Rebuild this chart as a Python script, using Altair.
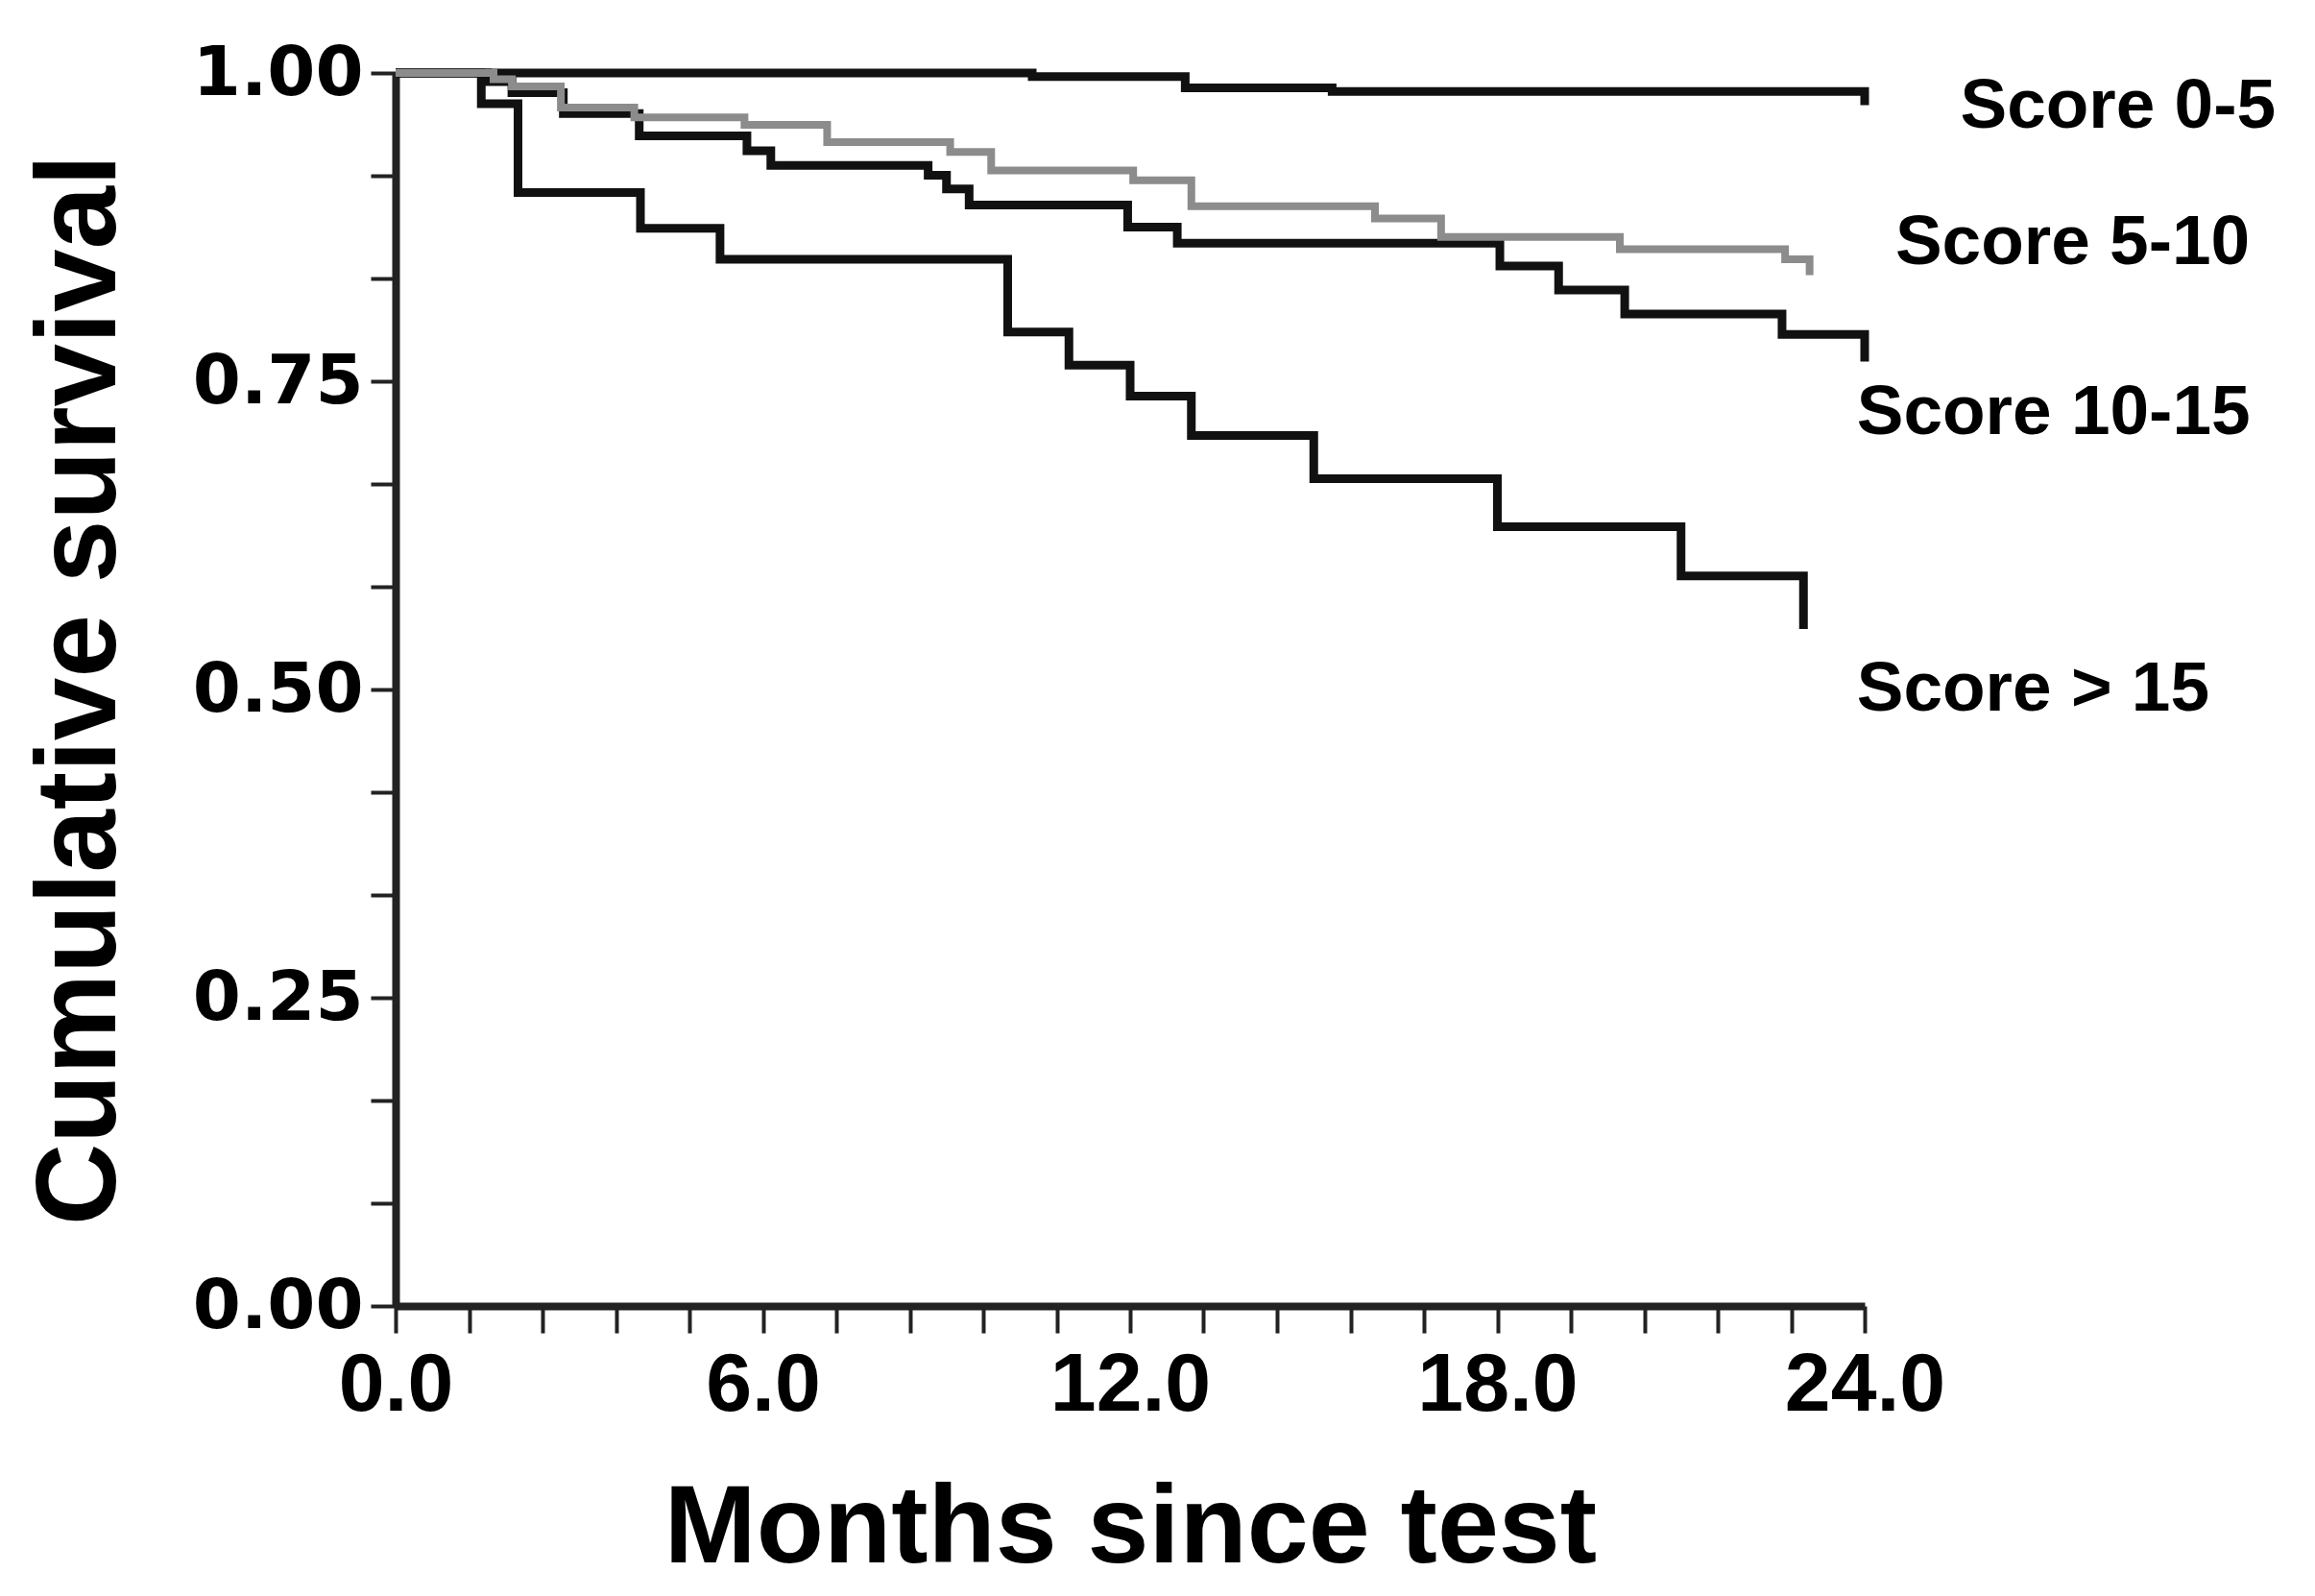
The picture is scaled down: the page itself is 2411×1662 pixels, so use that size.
import altair as alt
import pandas as pd

# ---- data ----
t_0_5 = [0.0, 10.4, 12.9, 15.3, 24.0]
s_0_5 = [1.0, 0.997, 0.988, 0.985, 0.974]

t_5_10 = [0.0, 1.6, 1.9, 2.7, 3.9, 5.7, 7.05, 9.06, 9.73, 12.05, 13.0, 16.0, 17.08, 20.0, 22.7, 23.1]
s_5_10 = [1.0, 0.995, 0.989, 0.972, 0.964, 0.958, 0.944, 0.936, 0.921, 0.913, 0.892, 0.882, 0.867, 0.857, 0.849, 0.836]

t_10_15 = [0.0, 1.5, 1.9, 2.74, 3.98, 5.74, 6.13, 8.7, 9.0, 9.37, 11.96, 12.77, 18.04, 19.0, 20.08, 22.65, 24.0]
s_10_15 = [1.0, 0.993, 0.984, 0.967, 0.949, 0.937, 0.925, 0.917, 0.906, 0.893, 0.875, 0.862, 0.8435, 0.824, 0.8045, 0.788, 0.766]

t_15 = [0.0, 1.4, 2.0, 4.0, 5.3, 10.0, 11.0, 12.0, 13.0, 15.0, 18.0, 21.0, 23.0]
s_15 = [1.0, 0.975, 0.903, 0.874, 0.849, 0.790, 0.763, 0.738, 0.706, 0.671, 0.632, 0.592, 0.549]

series_names = ["Score 0-5", "Score 5-10", "Score 10-15", "Score > 15"]
label_x = [25.56, 24.5, 23.87, 23.87]
label_y = [0.973, 0.862, 0.724, 0.50]

x_ticks = [round(i * 1.2, 1) for i in range(21)]
y_ticks = [i / 12 for i in range(13)]

# ---- build tables ----
rows = []
for name, ts, ss in zip(series_names,
                        [t_0_5, t_5_10, t_10_15, t_15],
                        [s_0_5, s_5_10, s_10_15, s_15]):
    for i, (t, s) in enumerate(zip(ts, ss)):
        rows.append({"series": name, "month": t, "surv": s, "order": i})
df = pd.DataFrame(rows)
lab = pd.DataFrame({"series": series_names, "lx": label_x, "ly": label_y})

xscale = alt.Scale(domain=[0, 24], nice=False, zero=False)
yscale = alt.Scale(domain=[0, 1], nice=False)

x_axis = alt.Axis(
    values=x_ticks,
    labelExpr="(round(datum.value/1.2) % 5 == 0) ? format(datum.value, '.1f') : ''",
    title="Months since test",
    titleFont="Liberation Sans", titleFontSize=115, titleFontWeight="bold",
    titlePadding=50, titleColor="#000",
    labelFont="Liberation Sans", labelFontSize=86, labelFontWeight="bold",
    labelColor="#000", labelPadding=12, labelOverlap=False, labelFlush=False,
    tickSize=28, tickWidth=4, tickColor="#222",
    domainWidth=8, domainColor="#222", grid=False,
)
y_axis = alt.Axis(
    values=y_ticks,
    labelExpr="(round(datum.value*12) % 3 == 0) ? format(datum.value, '.2f') : ''",
    title="Cumulative survival",
    titleFont="Liberation Sans", titleFontSize=118, titleFontWeight="bold",
    titlePadding=68, titleColor="#000",
    labelFont="DejaVu Sans", labelFontSize=72, labelFontWeight="bold",
    labelColor="#000", labelPadding=8, labelOverlap=False, labelFlush=False,
    tickSize=26, tickWidth=4, tickColor="#222",
    domainWidth=8, domainColor="#222", grid=False,
)

base = alt.Chart(df)
black = base.transform_filter(alt.datum.series != "Score 5-10").mark_line(
    interpolate="step-after", strokeWidth=9, color="#111111"
).encode(
    x=alt.X("month:Q", scale=xscale, axis=x_axis),
    y=alt.Y("surv:Q", scale=yscale, axis=y_axis),
    detail="series:N",
    order="order:Q",
)
gray = base.transform_filter(alt.datum.series == "Score 5-10").mark_line(
    interpolate="step-after", strokeWidth=8, color="#8c8c8c"
).encode(
    x=alt.X("month:Q", scale=xscale),
    y=alt.Y("surv:Q", scale=yscale),
    order="order:Q",
)
labels = alt.Chart(lab).mark_text(
    align="left", baseline="middle", font="Liberation Sans",
    fontSize=73, fontWeight="bold", color="#000"
).encode(
    x=alt.X("lx:Q", scale=xscale),
    y=alt.Y("ly:Q", scale=yscale),
    text="series:N",
)

chart = alt.layer(black, gray, labels).properties(
    width=1530, height=1284,
    autosize=alt.AutoSizeParams(type="none"),
    padding={"left": 404, "top": 68, "right": 440, "bottom": 290},
    background="white",
).configure_view(stroke=None)

chart.save("out.html", embed_options={"renderer": "svg", "actions": False})
